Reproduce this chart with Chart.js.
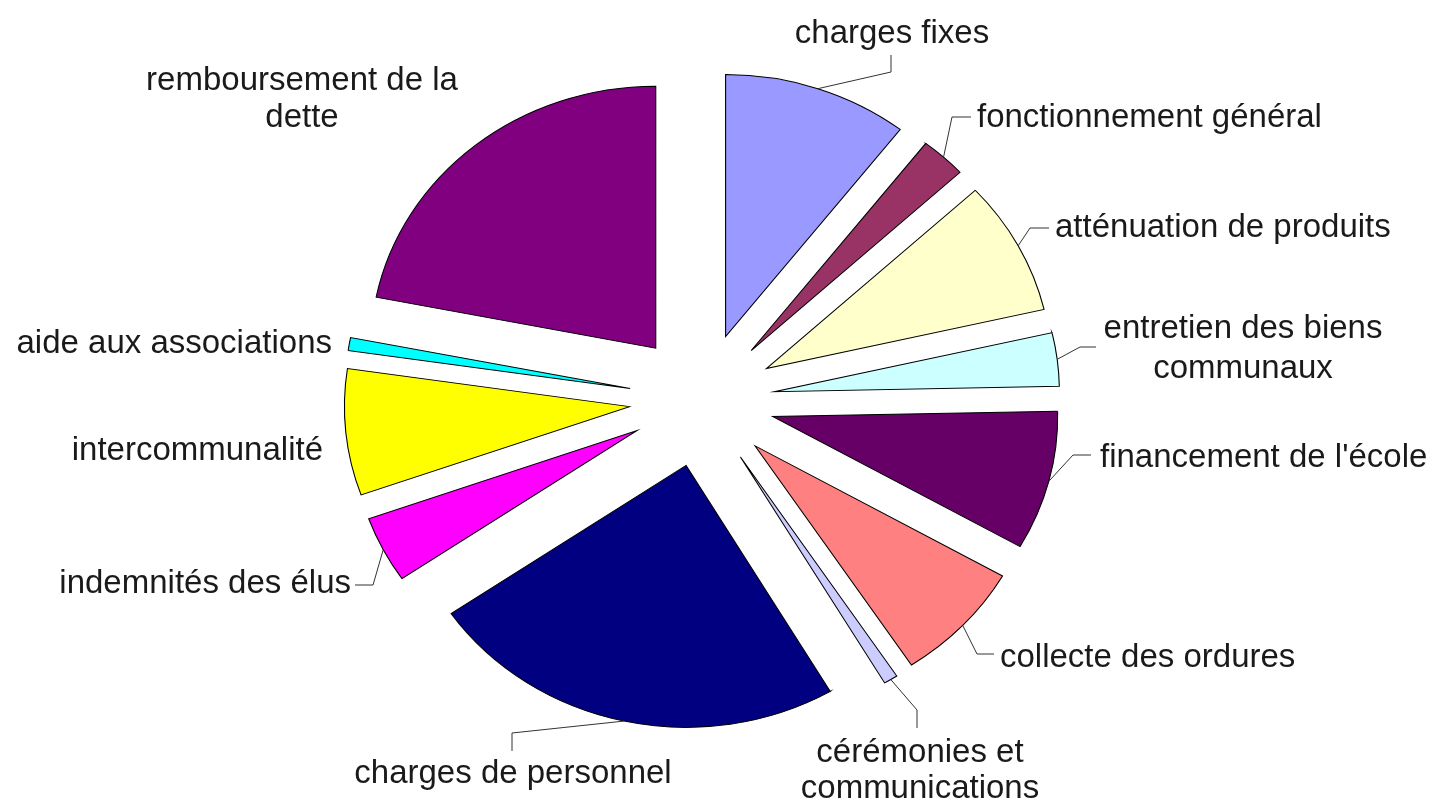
<!DOCTYPE html>
<html>
<head>
<meta charset="utf-8">
<script src="https://cdn.jsdelivr.net/npm/chart.js@4"></script>
<style>
  html, body { margin: 0; padding: 0; background: #fff; }
  #wrap { width: 1432px; height: 804px; position: relative; }
</style>
</head>
<body>
<div id="wrap"><canvas id="graphique"></canvas></div>
<script>
// postes de dépenses, sens horaire depuis midi
const categories = [
    'charges fixes',
    'fonctionnement général',
    'atténuation de produits',
    'entretien des biens communaux',
    'financement de l\'école',
    'collecte des ordures',
    'cérémonies et communications',
    'charges de personnel',
    'indemnités des élus',
    'intercommunalité',
    'aide aux associations',
    'remboursement de la dette'
];
// parts en %
const parts = [10.5, 2.6, 8.3, 3.3, 8.6, 7.5, 0.8, 23.9, 4.1, 7.8, 0.8, 21.9];

const couleurs = ['#9999FF', '#993366', '#FFFFCC', '#CCFFFF', '#660066', '#FF8080',
    '#CCCCFF', '#000080', '#FF00FF', '#FFFF00', '#00FFFF', '#800080'];

// texte des étiquettes (coupées comme sur l'original)
const etiquettes = [
    ['charges fixes'],
    ['fonctionnement général'],
    ['atténuation de produits'],
    ['entretien des biens', 'communaux'],
    ['financement de l\'école'],
    ['collecte des ordures'],
    ['cérémonies et', 'communications'],
    ['charges de personnel'],
    ['indemnités des élus'],
    ['intercommunalité'],
    ['aide aux associations'],
    ['remboursement de la', 'dette']
];

const RAYON = 262;     // rayon des parts
const ECART = 67;      // décalage des parts (éclaté)
const ETIRE = 1.088;   // l'original est un peu étiré en largeur

// placement des étiquettes, relatif au centre du camembert
const placement = [
    { align: 'center', x: 190, y: -357, lh: 37, trait: [[189, -328], [189, -345]] },
    { align: 'left', x: 275, y: -273, lh: 37, trait: [[250, -283], [269, -283]] },
    { align: 'left', x: 353, y: -163, lh: 37, trait: [[328, -172], [347, -172]] },
    { align: 'center', x: 541, y: -62, lh: 40, trait: [[378, -53], [394, -53]] },
    { align: 'left', x: 398, y: 67, lh: 37, trait: [[371, 55], [389, 55]] },
    { align: 'left', x: 298, y: 267, lh: 37, trait: [[275, 254], [292, 254]] },
    { align: 'center', x: 218, y: 362, lh: 36, trait: [[215, 310], [215, 328]] },
    { align: 'center', x: -189, y: 383, lh: 37, trait: [[-190, 333], [-190, 351]] },
    { align: 'right', x: -351, y: 193, lh: 37, trait: [[-329, 185], [-347, 185]] },
    { align: 'right', x: -379, y: 60, lh: 37, trait: null },
    { align: 'right', x: -370, y: -47, lh: 37, trait: null },
    { align: 'center', x: -400, y: -310, lh: 37, trait: null }
];

// camembert éclaté : chaque part est décalée de ECART le long de sa bissectrice
// (l'option offset de Chart.js v4 déforme les petites parts)
const pluginEclate = {
    id: 'eclate',
    beforeDatasetDraw(chart, args) {
        const ctx = chart.ctx;
        args.meta.data.forEach(function (arc) {
            const mid = (arc.startAngle + arc.endAngle) / 2;
            ctx.save();
            ctx.translate(arc.x, arc.y);
            ctx.scale(ETIRE, 1);
            ctx.translate(-arc.x, -arc.y);
            ctx.translate(Math.cos(mid) * ECART, Math.sin(mid) * ECART);
            arc.draw(ctx);
            ctx.restore();
        });
        return false;
    }
};

const pluginEtiquettes = {
    id: 'etiquettes',
    afterDatasetsDraw(chart) {
        const ctx = chart.ctx;
        const arcs = chart.getDatasetMeta(0).data;
        ctx.save();
        ctx.font = '33px "Liberation Sans", Arial, sans-serif';
        ctx.fillStyle = '#1a1a1a';
        ctx.strokeStyle = '#333';
        ctx.lineWidth = 1;
        arcs.forEach(function (arc, i) {
            const p = placement[i];
            const cx = arc.x, cy = arc.y;
            const mid = (arc.startAngle + arc.endAngle) / 2;
            const r = arc.outerRadius + ECART;
            if (p.trait) {
                ctx.beginPath();
                ctx.moveTo(cx + Math.cos(mid) * r * ETIRE, cy + Math.sin(mid) * r);
                p.trait.forEach(function (pt) {
                    ctx.lineTo(cx + pt[0], cy + pt[1]);
                });
                ctx.stroke();
            }
            ctx.textAlign = p.align;
            ctx.textBaseline = 'alphabetic';
            etiquettes[i].forEach(function (ligne, k) {
                ctx.fillText(ligne, cx + p.x, cy + p.y + k * p.lh);
            });
        });
        ctx.restore();
    }
};

const ctx = document.getElementById('graphique').getContext('2d');
const graphique = new Chart(ctx, {
    type: 'pie',
    data: {
        labels: categories,
        datasets: [{
            data: parts,
            backgroundColor: couleurs,
            borderColor: '#000',
            borderWidth: 1,
            borderJoinStyle: 'miter',
            offset: 0,
            hoverOffset: 0,
            radius: RAYON
        }]
    },
    options: {
        responsive: true,
        maintainAspectRatio: false,
        animation: false,
        events: [],
        rotation: 0,
        layout: { padding: { left: 0, right: 28, top: 4, bottom: 8 } },
        plugins: {
            legend: { display: false },
            tooltip: { enabled: false }
        }
    },
    plugins: [pluginEclate, pluginEtiquettes]
});
</script>
</body>
</html>
